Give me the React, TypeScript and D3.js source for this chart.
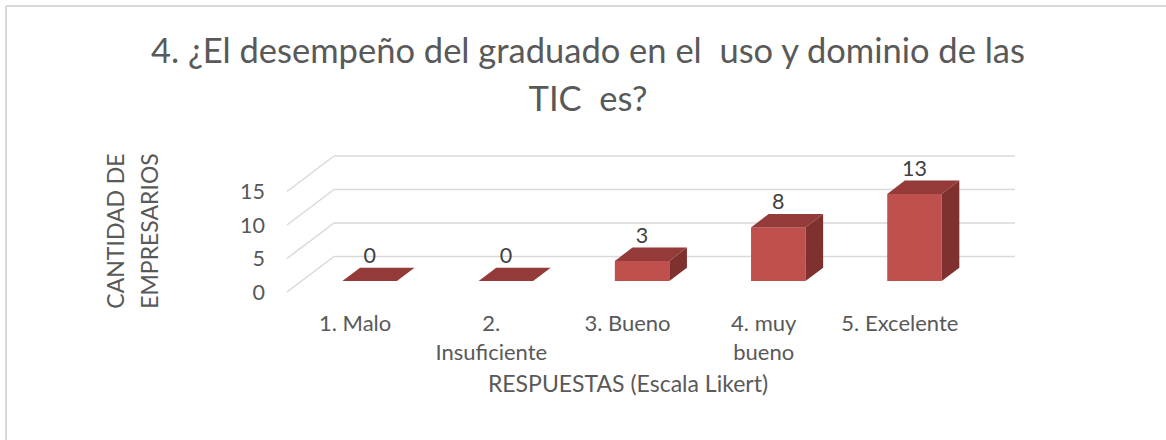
import React from 'react';
import * as d3 from 'd3';

const categories = ['1. Malo', '2. Insuficiente', '3. Bueno', '4. muy bueno', '5. Excelente'];
const categoryLines = [['1. Malo'], ['2.', 'Insuficiente'], ['3. Bueno'], ['4. muy', 'bueno'], ['5. Excelente']];
const values = [0, 0, 3, 8, 13];
const yTicks = [0, 5, 10, 15];
const titleLines = ['4. ¿El desempeño del graduado en el  uso y dominio de las', 'TIC  es?'];
const yTitleLines = ['CANTIDAD DE', 'EMPRESARIOS'];
const xTitle = 'RESPUESTAS (Escala Likert)';

const W = 1166;
const H = 440;
const font = 'Lato, Calibri, sans-serif';
const textColor = '#595959';
const gridColor = '#D9D9D9';

// 3d projection: depth offset of the back wall
const depthX = 47;
const depthY = 35.5;
// bar sits between these fractions of the depth
const barFront = 0.31;
const barDepth = 0.375;

export default function App() {
  const x = d3.scaleBand<string>().domain(categories).range([287, 968]).paddingInner(0).paddingOuter(0);
  const y = d3.scaleLinear().domain([0, 15]).range([292, 191.5]);
  const barW = x.bandwidth() * 0.4;

  const fx = depthX * barFront;
  const fy = depthY * barFront;
  const ddx = depthX * barDepth;
  const ddy = depthY * barDepth;

  return (
    <svg width={W} height={H} style={{ position: 'absolute', left: 0, top: 0 }} fontFamily={font}>
      <rect x={0} y={0} width={W} height={H} fill="#fff" />
      {/* frame */}
      <line x1={6} y1={6} x2={W} y2={6} stroke={gridColor} strokeWidth={2} />
      <line x1={6} y1={6} x2={6} y2={H} stroke={gridColor} strokeWidth={2} />

      {/* title */}
      {titleLines.map((t, i) => (
        <text key={i} x={588} y={63 + i * 48} textAnchor="middle" fontSize={34.5} fill={textColor} style={{ whiteSpace: 'pre' }}>
          {t}
        </text>
      ))}

      {/* gridlines */}
      {yTicks.map((t) => {
        const yy = y(t);
        return (
          <g key={t}>
            <line x1={287} y1={yy} x2={287 + depthX} y2={yy - depthY} stroke={gridColor} strokeWidth={1.5} />
            <line x1={287 + depthX} y1={yy - depthY} x2={968 + depthX} y2={yy - depthY} stroke={gridColor} strokeWidth={1.5} />
            <text x={265} y={yy} dy="0.35em" textAnchor="end" fontSize={21.5} fill={textColor}>
              {t}
            </text>
          </g>
        );
      })}

      {/* bars */}
      {values.map((v, i) => {
        const cx = (x(categories[i]) as number) + x.bandwidth() / 2 + fx;
        const x0 = cx - barW / 2;
        const x1 = cx + barW / 2;
        const yb = y(0) - fy;
        const yt = y(v) - fy;
        const top = `${x0},${yt} ${x1},${yt} ${x1 + ddx},${yt - ddy} ${x0 + ddx},${yt - ddy}`;
        const side = `${x1},${yt} ${x1 + ddx},${yt - ddy} ${x1 + ddx},${yb - ddy} ${x1},${yb}`;
        return (
          <g key={i}>
            {v > 0 && <rect x={x0} y={yt} width={barW} height={yb - yt} fill="#C0504D" />}
            {v > 0 && <polygon points={side} fill="#7F3130" />}
            <polygon points={top} fill="#943A38" />
            <text x={cx} y={yt - ddy - 5} textAnchor="middle" fontSize={21.5} fill="#404040">
              {v}
            </text>
          </g>
        );
      })}

      {/* category labels */}
      {categoryLines.map((lines, i) => (
        <text key={i} textAnchor="middle" fontSize={22} fill={textColor}>
          {lines.map((l, j) => (
            <tspan key={j} x={(x(categories[i]) as number) + x.bandwidth() / 2} y={331 + j * 29}>
              {l}
            </tspan>
          ))}
        </text>
      ))}

      {/* axis titles */}
      <text x={628} y={392} textAnchor="middle" fontSize={23} fill={textColor}>
        {xTitle}
      </text>
      {yTitleLines.map((l, i) => (
        <text
          key={i}
          transform={`translate(${124 + i * 34},231) rotate(-90)`}
          textAnchor="middle"
          fontSize={23}
          fill={textColor}
        >
          {l}
        </text>
      ))}
    </svg>
  );
}
